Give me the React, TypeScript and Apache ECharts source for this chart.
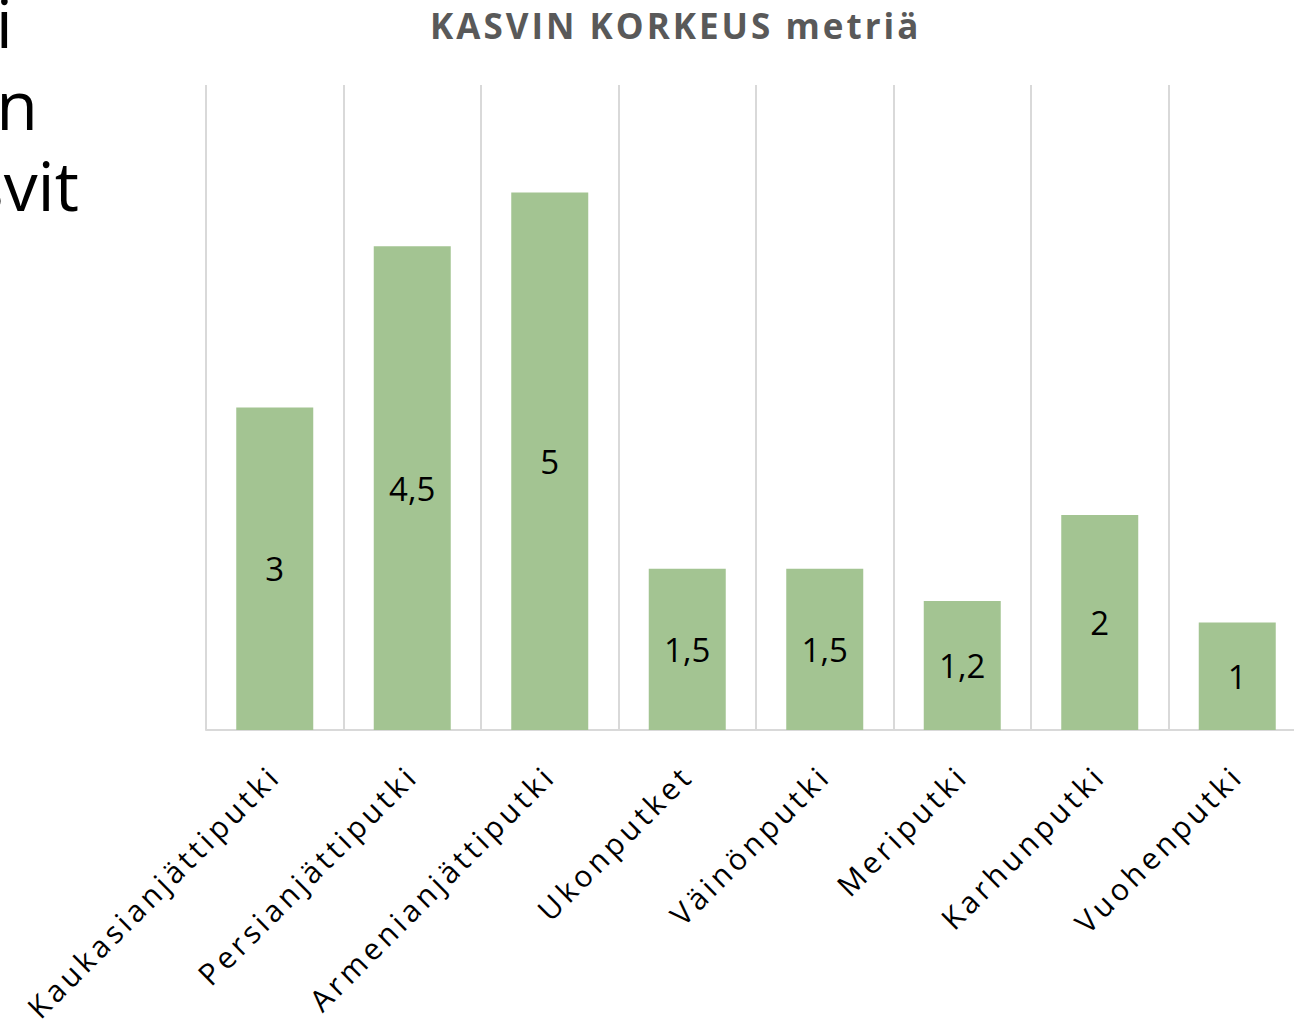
import React, { useEffect, useRef } from "react";
import * as echarts from "echarts";

const categories = [
  "Kaukasianjättiputki",
  "Persianjättiputki",
  "Armenianjättiputki",
  "Ukonputket",
  "Väinönputki",
  "Meriputki",
  "Karhunputki",
  "Vuohenputki",
];
const heights = [3, 4.5, 5, 1.5, 1.5, 1.2, 2, 1];
const titleText = "KASVIN KORKEUS metriä";
const slideLines = ["i", "n", "svit"];
const slideRight = [13, 38, 79];
const slideY = [21, 103, 184];

export default function App() {
  const ref = useRef<HTMLDivElement>(null);
  useEffect(() => {
    if (!ref.current) return;
    const chart = echarts.init(ref.current, null, { renderer: "svg" });
    chart.setOption({
      animation: false,
      backgroundColor: "#ffffff",
      grid: { left: 206, top: 85, width: 1100, height: 645, containLabel: false },
      xAxis: {
        type: "category",
        data: categories,
        axisLine: { show: true, lineStyle: { color: "#d9d9d9", width: 2 } },
        axisTick: { show: false },
        splitLine: { show: true, lineStyle: { color: "#d9d9d9", width: 2 } },
        axisLabel: {
          rotate: 45,
          interval: 0,
          margin: 40,
          fontSize: 30,
          fontFamily: "Open Sans",
          color: "#000000",
        },
      },
      yAxis: { type: "value", min: 0, max: 6, show: false },
      series: [
        {
          type: "bar",
          data: heights,
          barWidth: 77,
          silent: true,
          itemStyle: { color: "#a3c492" },
          label: {
            show: true,
            position: "inside",
            fontSize: 33,
            fontFamily: "Open Sans",
            color: "#000000",
            formatter: (p: any) => String(p.value).replace(".", ","),
          },
        },
      ],
      graphic: [
        {
          type: "text",
          left: 430,
          top: 8,
          style: {
            text: titleText,
            fontSize: 35,
            fontWeight: "bold",
            fontFamily: "Open Sans",
            fill: "#595959",
          },
        },
        ...slideLines.map((t, i) => ({
          type: "text",
          x: slideRight[i],
          y: slideY[i],
          style: {
            text: t,
            fontSize: 68,
            lineHeight: 68,
            fontFamily: "Open Sans",
            fill: "#000000",
            textAlign: "right",
            textVerticalAlign: "middle",
          },
        })),
      ],
    });
    return () => chart.dispose();
  }, []);
  return (
    <>
      <style>{`
        body { margin: 0; }
        #kc text[style*="30px"] { letter-spacing: 4px; }
        #kc text[style*="35px"] { letter-spacing: 3px; }
      `}</style>
      <div
        style={{
          position: "absolute",
          left: 0,
          top: 0,
          width: 1294,
          height: 1024,
          overflow: "hidden",
        }}
      >
        <div id="kc" ref={ref} style={{ width: 1330, height: 1024 }} />
      </div>
    </>
  );
}
